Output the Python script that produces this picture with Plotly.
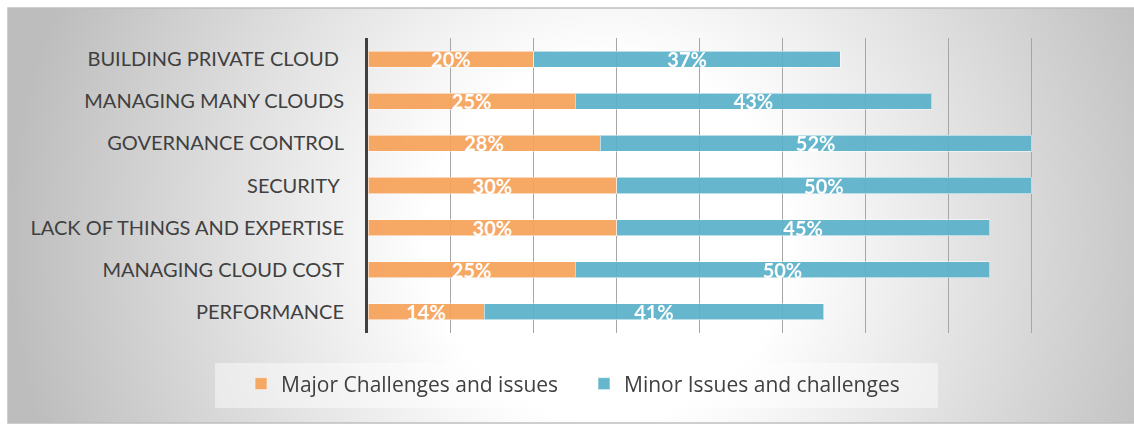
import base64
import plotly.graph_objects as go

categories = [
    "BUILDING PRIVATE CLOUD\u00a0",
    "MANAGING MANY CLOUDS",
    "GOVERNANCE CONTROL",
    "SECURITY\u00a0",
    "LACK OF THINGS AND EXPERTISE",
    "MANAGING CLOUD COST",
    "PERFORMANCE",
]
major = [20, 25, 28, 30, 30, 25, 14]
minor = [37, 43, 52, 50, 45, 50, 41]
series_names = ["Major Challenges and issues", "Minor Issues and challenges"]

W, H = 1134, 424
L, R, T, B = 368, 20, 38, 91
pw, ph = W - L - R, H - T - B


def px_x(p):
    return (p - L) / pw


def px_y(p):
    return (H - B - p) / ph


svg = (
    '<svg xmlns="http://www.w3.org/2000/svg" width="1126" height="415" '
    'viewBox="0 0 1126 415" preserveAspectRatio="none">'
    '<defs><radialGradient id="g" gradientUnits="userSpaceOnUse" cx="600" cy="232" r="600">'
    '<stop offset="0" stop-color="#ffffff"/>'
    '<stop offset="0.3" stop-color="#ffffff"/>'
    '<stop offset="1" stop-color="#bdbdbd"/>'
    '</radialGradient></defs>'
    '<rect x="0" y="0" width="1126" height="415" fill="url(#g)"/></svg>'
)
src = "data:image/svg+xml;base64," + base64.b64encode(svg.encode()).decode()

fig = go.Figure()
colors = ["#F6A25A", "#5BB2CA"]
for name, vals, col in zip(series_names, [major, minor], colors):
    fig.add_trace(go.Bar(
        y=categories, x=vals, name=name, orientation="h",
        marker=dict(color=col, line=dict(color="rgba(255,255,255,0.55)", width=1)),
        opacity=0.93,
        text=[f"{v}%" for v in vals],
        textposition="inside", insidetextanchor="middle",
        constraintext="none",
        textfont=dict(family="Lato", size=20, color="white", weight="bold"),
        hoverinfo="skip",
    ))

fig.update_layout(
    width=W, height=H,
    margin=dict(l=L, r=R, t=T, b=B, pad=0),
    barmode="stack", bargap=0.62,
    paper_bgcolor="white", plot_bgcolor="rgba(0,0,0,0)",
    font=dict(family="Lato", color="#404040"),
    showlegend=True,
    legend=dict(
        orientation="h", x=px_x(241), xanchor="left", y=px_y(384), yanchor="middle",
        bgcolor="rgba(0,0,0,0)", font=dict(family="Open Sans", size=21, color="#404040"),
        traceorder="normal", itemclick=False, entrywidth=298,
    ),
    images=[dict(
        source=src, xref="paper", yref="paper",
        x=px_x(8), y=px_y(8), sizex=px_x(1134) - px_x(8), sizey=px_y(8) - px_y(423),
        xanchor="left", yanchor="top", sizing="stretch", layer="below",
    )],
    shapes=[
        dict(type="rect", xref="paper", yref="paper",
             x0=px_x(8), x1=px_x(1140), y0=px_y(423), y1=px_y(8),
             line=dict(color="#bfbfbf", width=1.5), fillcolor="rgba(0,0,0,0)", layer="below"),
        dict(type="rect", xref="paper", yref="paper",
             x0=px_x(215), x1=px_x(938), y0=px_y(408), y1=px_y(363),
             line=dict(width=0), fillcolor="rgba(255,255,255,0.45)", layer="below"),
    ],
)
fig.update_xaxes(range=[0, 90], dtick=10, showticklabels=False, showgrid=True,
                 gridcolor="#a6a6a6", gridwidth=1, zeroline=False, showline=False,
                 fixedrange=True)
fig.update_yaxes(autorange="reversed", showline=True, linecolor="#404040", linewidth=3,
                 ticks="", ticklabelstandoff=17, showgrid=False,
                 tickfont=dict(family="Lato", size=20, color="#404040"), fixedrange=True)

fig.write_html("out.html", post_script="document.body.style.margin='0';",
               config={"displayModeBar": False})
